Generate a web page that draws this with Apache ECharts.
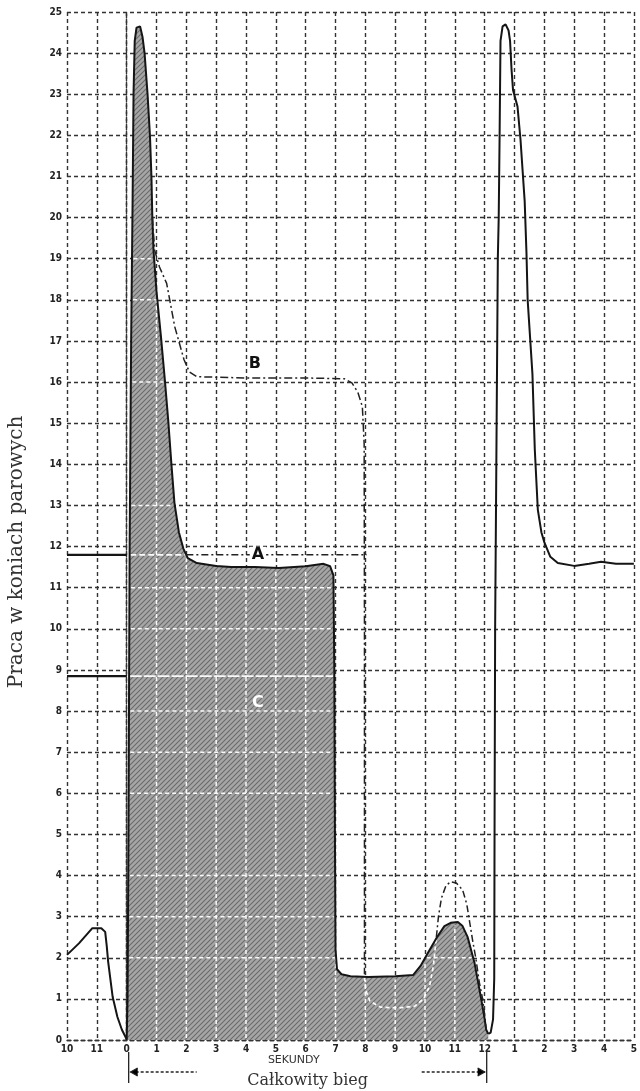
<!DOCTYPE html>
<html><head><meta charset="utf-8">
<script src="https://cdn.jsdelivr.net/npm/echarts@6/dist/echarts.min.js"></script>
<style>html,body{margin:0;padding:0;background:#fff}#c{width:640px;height:1091px}</style>
</head><body><div id="c"></div>
<script>
// ---- data ----
const xTicks = { min: -2, max: 17, step: 1 };
const yTicks = { min: 0, max: 25, step: 1 };
const leftCurve = [[-2,2.07],[-1.6,2.35],[-1.15,2.72],[-0.85,2.72],[-0.72,2.63],[-0.67,2.3],[-0.62,1.9],[-0.47,1.05],[-0.31,0.56],[-0.16,0.25],[0,0.02]];
const mainCurve = [[0,0],[0.03,1],[0.06,5],[0.1,12],[0.15,17],[0.2,20.5],[0.23,23],[0.27,24.3],[0.33,24.62],[0.45,24.65],[0.53,24.4],[0.6,24.0],[0.7,23.0],[0.78,22.0],[0.83,21.0],[0.86,20.0],[0.9,19.2],[1.0,18.2],[1.15,17.1],[1.28,16.05],[1.4,15.0],[1.5,14.0],[1.6,13.07],[1.75,12.35],[1.9,11.95],[2.05,11.72],[2.35,11.6],[3.0,11.53],[3.5,11.5],[4.3,11.5],[5.1,11.48],[6.0,11.52],[6.6,11.58],[6.82,11.52],[6.93,11.3],[6.96,9],[6.98,5],[7.0,2.2],[7.05,1.72],[7.2,1.6],[7.5,1.55],[8.1,1.53],[9.0,1.55],[9.6,1.58],[9.85,1.8],[10.1,2.12],[10.4,2.5],[10.65,2.77],[10.86,2.85],[11.1,2.87],[11.25,2.78],[11.43,2.5],[11.66,1.87],[11.87,1.05],[12.0,0.5],[12.05,0.25],[12.12,0.15]];
const rightCurve = [[12.12,0.15],[12.2,0.18],[12.28,0.5],[12.32,1.5],[12.33,5],[12.35,10],[12.4,15],[12.44,19],[12.47,20],[12.5,22],[12.53,24.3],[12.6,24.65],[12.7,24.7],[12.8,24.55],[12.85,24.3],[12.9,23.6],[12.95,23.1],[13.1,22.7],[13.2,21.9],[13.34,20.4],[13.4,19.15],[13.44,18.0],[13.6,16.2],[13.68,14.35],[13.78,12.9],[13.9,12.35],[14.0,12.1],[14.2,11.75],[14.45,11.6],[15.0,11.53],[15.5,11.58],[15.9,11.63],[16.4,11.58],[17,11.58]];
const bUpper = [[0.86,20],[0.94,19.2],[1.1,18.8],[1.34,18.4],[1.61,17.35],[1.92,16.55],[2.1,16.25],[2.35,16.13],[4,16.1],[6,16.1],[7.3,16.08],[7.55,15.98],[7.75,15.75],[7.9,15.4],[7.96,14.5],[7.97,10],[7.97,5],[7.97,1.6]];
const bInner = [[7.97,1.53],[8.02,1.2],[8.15,0.95],[8.5,0.8],[9.1,0.78],[9.65,0.82],[9.95,1.0],[10.15,1.3],[10.28,1.8],[10.38,2.5]];
const bBump = [[10.38,2.5],[10.45,3.0],[10.55,3.45],[10.7,3.75],[10.86,3.85],[11.05,3.82],[11.26,3.65],[11.4,3.3],[11.5,2.85],[11.6,2.4],[11.7,2.0],[11.82,1.4],[11.93,1.0],[12.0,0.6],[12.05,0.25]];
const aLeft = [[-2,11.8],[0,11.8]];
const aInner = [[0.12,11.8],[1.97,11.8]];
const aOuter = [[2.0,11.8],[8.05,11.8]];
const cLeft = [[-2,8.85],[0,8.85]];
const cInner = [[0.1,8.85],[6.93,8.85]];
const curveLabels = [{name:'A',value:[4.4,11.8]},{name:'B',value:[4.3,16.45]},{name:'C',value:[4.4,8.2]}];
const spanMarks = [0, 12];
const spanTitle = 'Całkowity bieg';
const xTitle = { text: 'SEKUNDY', x: 5.6 };
const yTitle = 'Praca w koniach parowych';
const xLabel = v => v < 0 ? v + 12 : (v > 12 ? v - 12 : v);

// ---- white grid inside the shaded area (derived from mainCurve) ----
function interp(pts, x){
  for (let i=0;i<pts.length-1;i++){
    const p=pts[i], q=pts[i+1];
    if (x>=p[0] && x<=q[0]) { return q[0]===p[0]? Math.max(p[1],q[1]) : p[1]+(x-p[0])/(q[0]-p[0])*(q[1]-p[1]); }
  }
  return 0;
}
const innerGrid = [];
for (let k=1;k<12;k++){ const t=interp(mainCurve,k); if (t>0.3) innerGrid.push([k,0.05,k,t-0.08]); }
for (let j=1;j<25;j++){
  let inside=false, start=null;
  for (let i=0;i<mainCurve.length-1;i++){
    const p=mainCurve[i], q=mainCurve[i+1];
    if ((p[1]-j)*(q[1]-j)<0){
      const xc=p[0]+(j-p[1])/(q[1]-p[1])*(q[0]-p[0]);
      if(!inside){start=xc;inside=true;} else {innerGrid.push([start+0.05,j,xc-0.05,j]);inside=false;}
    }
  }
}

function makeHatch(){
  const n=5, c=document.createElement('canvas'); c.width=c.height=n;
  const g=c.getContext('2d'); g.fillStyle='#a6a6a6'; g.fillRect(0,0,n,n);
  g.strokeStyle='#6a6a6a'; g.lineWidth=1.1; g.beginPath();
  g.moveTo(0,n); g.lineTo(n,0); g.moveTo(-1,1); g.lineTo(1,-1); g.moveTo(n-1,n+1); g.lineTo(n+1,n-1); g.stroke();
  return c;
}

const gridLine = { color:'#333', type:[4,3], width:1.4 };
const black = '#151515';
const white = 'rgba(255,255,255,0.95)';
const lineS = (data, style, z) => ({ type:'line', data, showSymbol:false, symbol:'none', silent:true, z: z||5, lineStyle: style });

const chart = echarts.init(document.getElementById('c'));
chart.setOption({
  animation:false,
  grid:{ left:67, right:3, top:12, bottom:51 },
  xAxis:{ type:'value', min:xTicks.min, max:xTicks.max, interval:xTicks.step,
    axisLine:{show:true, lineStyle:gridLine}, axisTick:{show:false},
    axisLabel:{ formatter:xLabel, margin:4, color:'#222', fontWeight:'bold', fontSize:10, fontFamily:'DejaVu Sans Condensed' },
    splitLine:{ show:true, lineStyle:gridLine } },
  yAxis:{ type:'value', min:yTicks.min, max:yTicks.max, interval:yTicks.step,
    axisLine:{show:true, lineStyle:gridLine}, axisTick:{show:false},
    axisLabel:{ margin:5, color:'#222', fontWeight:'bold', fontSize:10, fontFamily:'DejaVu Sans Condensed' },
    splitLine:{ show:true, lineStyle:gridLine } },
  graphic:[{ type:'text', x:17, y:552, rotation:Math.PI/2,
    style:{ text:yTitle, font:'20px "DejaVu Serif"', fill:'#333', align:'center', verticalAlign:'middle', textAlign:'center', textVerticalAlign:'middle' } }],
  series:[
    { type:'line', data:mainCurve, showSymbol:false, symbol:'none', silent:true, z:2,
      lineStyle:{ width:0, opacity:0 }, areaStyle:{ color:{ image:makeHatch(), repeat:'repeat' }, opacity:1 } },
    { type:'custom', silent:true, z:3, data:innerGrid, encode:{x:[0,2], y:[1,3]},
      renderItem:(p, api)=>{ const a=api.coord([api.value(0),api.value(1)]), b=api.coord([api.value(2),api.value(3)]);
        return { type:'line', shape:{x1:a[0],y1:a[1],x2:b[0],y2:b[1]}, style:{ stroke:white, lineWidth:1.5, lineDash:[4,3] } }; } },
    lineS(aInner, { color:white, width:1.7, type:[6,3] }, 4),
    lineS(cInner, { color:white, width:1.8, type:[12,2] }, 4),
    lineS(bInner, { color:white, width:1.7, type:[4,3] }, 4),
    lineS(leftCurve, { color:black, width:2 }),
    lineS(mainCurve, { color:black, width:2 }),
    lineS(rightCurve, { color:black, width:2 }),
    lineS(aLeft, { color:black, width:2.2 }),
    lineS(cLeft, { color:black, width:2.2 }),
    lineS(aOuter, { color:'#222', width:1.5, type:[7,3,2,3] }),
    lineS(bUpper, { color:'#222', width:1.5, type:[8,3,2,3] }),
    lineS(bBump, { color:'#222', width:1.5, type:[7,3,2,3] }),
    { type:'scatter', silent:true, z:8, symbol:'circle', symbolSize:0, itemStyle:{color:'transparent'},
      data: curveLabels.map(d=>({ name:d.name, value:d.value,
        label:{ show:true, position:'inside', formatter:'{b}', fontSize:16, fontWeight:'bold', fontFamily:'DejaVu Sans',
          color: d.name==='C' ? '#fff' : '#111', opacity:1, backgroundColor: d.name==='A' ? '#fff' : 'transparent', padding:[0,2] } })) },
    { type:'custom', silent:true, clip:false, z:6, data:[spanMarks], encode:{x:[0,1]},
      renderItem:(p, api)=>{
        const p0=api.coord([api.value(0),0]), p1=api.coord([api.value(1),0]);
        const y0=p0[1], xa=p0[0]+2, xb=p1[0]+2, ya=y0+32;
        const st={ stroke:'#222', lineWidth:1.3 };
        const xs=api.coord([xTitle.x,0])[0];
        return { type:'group', children:[
          { type:'line', shape:{x1:xa,y1:y0+12,x2:xa,y2:y0+43}, style:st },
          { type:'line', shape:{x1:xb,y1:y0+12,x2:xb,y2:y0+43}, style:st },
          { type:'line', shape:{x1:xa+2,y1:ya,x2:xa+68,y2:ya}, style:{...st, lineDash:[3,2]} },
          { type:'line', shape:{x1:xb-65,y1:ya,x2:xb-2,y2:ya}, style:{...st, lineDash:[3,2]} },
          { type:'polyline', shape:{points:[[xa+9,ya-4],[xa+2,ya],[xa+9,ya+4]]}, style:st },
          { type:'polyline', shape:{points:[[xb-9,ya-4],[xb-2,ya],[xb-9,ya+4]]}, style:st },
          { type:'text', x:(xa+xb)/2, y:y0+41, style:{ text:spanTitle, font:'16px "DejaVu Serif"', fill:'#333', align:'center', verticalAlign:'middle' } },
          { type:'text', x:xs, y:y0+20, style:{ text:xTitle.text, font:'11px "DejaVu Sans"', fill:'#333', align:'center', verticalAlign:'middle' } }
        ]};
      } }
  ]
});
</script></body></html>
